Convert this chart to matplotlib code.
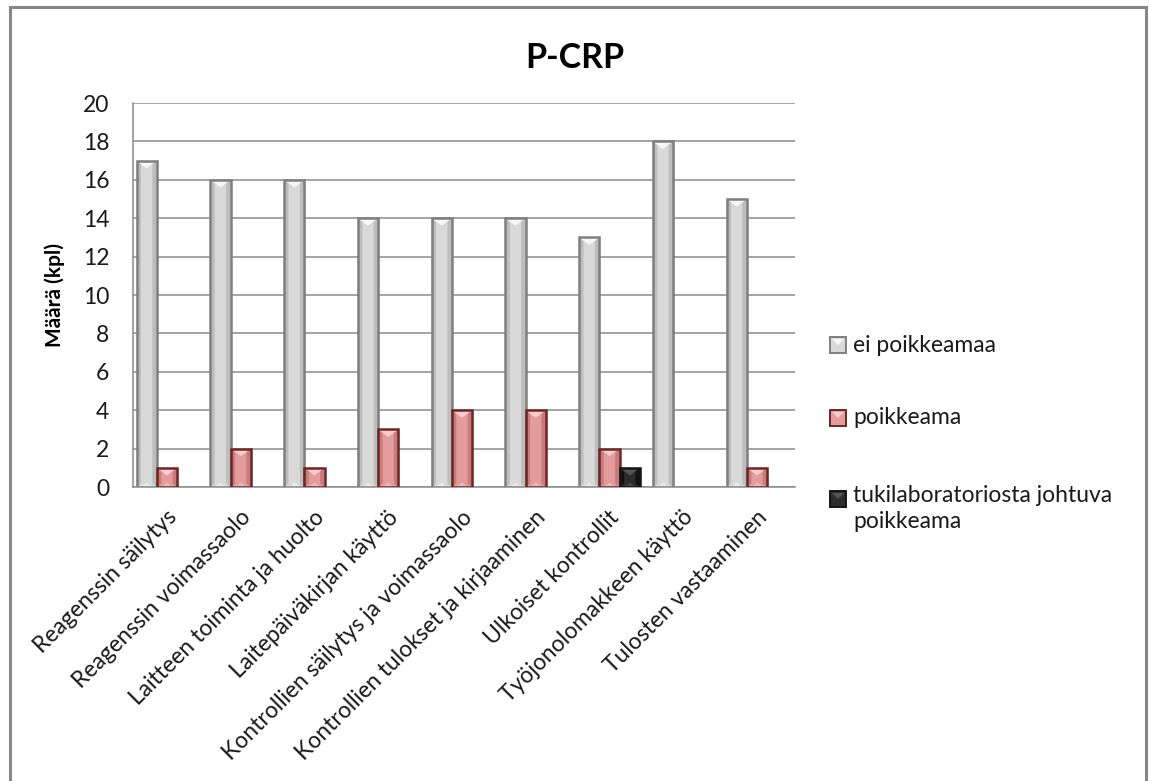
import matplotlib
matplotlib.use("Agg")
import matplotlib.pyplot as plt
import matplotlib.transforms as mtransforms
from matplotlib.patches import Polygon, Rectangle
import numpy as np

plt.rcParams['font.family'] = ['Lato', 'DejaVu Sans']

categories = [
    "Reagenssin säilytys",
    "Reagenssin voimassaolo",
    "Laitteen toiminta ja huolto",
    "Laitepäiväkirjan käyttö",
    "Kontrollien säilytys ja voimassaolo",
    "Kontrollien tulokset ja kirjaaminen",
    "Ulkoiset kontrollit",
    "Työjonolomakkeen käyttö",
    "Tulosten vastaaminen",
]
ei_poikkeamaa = [17, 16, 16, 14, 14, 14, 13, 18, 15]
poikkeama = [1, 2, 1, 3, 4, 4, 2, 0, 1]
tukilaboratorio = [0, 0, 0, 0, 0, 0, 1, 0, 0]

series_labels = ["ei poikkeamaa", "poikkeama", "tukilaboratoriosta johtuva\npoikkeama"]
yticks = list(range(0, 21, 2))

# colours: (face, light, dark, edge)
styles = [
    ("#d9d9d9", "#f7f7f7", "#bdbdbd", "#7f7f7f"),
    ("#e39b9b", "#f6cccc", "#c97b7b", "#6e2626"),
    ("#2c2c2c", "#555555", "#111111", "#151515"),
]

FS = 16.5

W, H = 1149, 781
fig = plt.figure(figsize=(W / 100, H / 100), dpi=100)
ax_left, ax_right, ax_top, ax_bot = 133, 795, 103, 487
ax = fig.add_axes([ax_left / W, 1 - ax_bot / H, (ax_right - ax_left) / W, (ax_bot - ax_top) / H])

slot = 73.75                  # pixels per category
bw = 20.3 / slot              # bar width in category units
x = np.arange(len(categories))
x_lo = -(167 - ax_left) / slot
x_hi = x_lo + (ax_right - ax_left) / slot
ax.set_xlim(x_lo, x_hi)
ax.set_ylim(0, 20)

px_per_unit_y = (ax_bot - ax_top) / 20.0


def bevel(patch, style):
    face, light, dark, edge = style
    x0, y0 = patch.get_x(), patch.get_y()
    w, h = patch.get_width(), patch.get_height()
    if h <= 0:
        return
    b = min((w * slot / 2.0) / px_per_unit_y * 0.75, h / 2.0)
    xm = x0 + w / 2.0
    inset = w * 0.22
    # side shading
    ax.add_patch(Polygon([(x0, y0), (x0 + inset, y0 + b * 0.45), (x0 + inset, y0 + h - b * 0.45), (x0, y0 + h)],
                         closed=True, facecolor=dark, edgecolor='none', zorder=3.1))
    ax.add_patch(Polygon([(x0 + w, y0), (x0 + w - inset, y0 + b * 0.45), (x0 + w - inset, y0 + h - b * 0.45), (x0 + w, y0 + h)],
                         closed=True, facecolor=dark, edgecolor='none', zorder=3.1))
    # top facet
    ax.add_patch(Polygon([(x0, y0 + h), (x0 + w, y0 + h), (xm, y0 + h - b)],
                         closed=True, facecolor=light, edgecolor='none', zorder=3.2))
    # bottom facet
    ax.add_patch(Polygon([(x0 + inset, y0), (x0 + w - inset, y0), (xm, y0 + b * 0.6)],
                         closed=True, facecolor=light, edgecolor='none', alpha=0.6, zorder=3.2))
    # outline on top
    ax.add_patch(Rectangle((x0, y0), w, h, facecolor='none', edgecolor=edge, linewidth=1.8, zorder=3.3))
    # soft drop shadow
    ax.add_patch(Rectangle((x0 + w, y0), w * 0.08, h, facecolor='#000000', alpha=0.12,
                           edgecolor='none', zorder=2.9, clip_on=False))


all_series = [ei_poikkeamaa, poikkeama, tukilaboratorio]
for k, (vals, st) in enumerate(zip(all_series, styles)):
    bars = ax.bar(x + (k - 1) * bw, vals, width=bw, color=st[0], edgecolor='none', zorder=3)
    for p in bars:
        bevel(p, st)

ax.set_yticks(yticks)
ax.set_yticklabels([str(t) for t in yticks], fontsize=FS, color='#1a1a1a')
ax.yaxis.grid(True, color='#8c8c8c', linewidth=1.1)
ax.set_axisbelow(True)
ax.tick_params(axis='y', length=0, pad=17)
for s in ['top', 'right']:
    ax.spines[s].set_visible(False)
for s in ['left', 'bottom']:
    ax.spines[s].set_color('#8c8c8c')
    ax.spines[s].set_linewidth(1.1)

ax.set_xticks(x)
ax.set_xticklabels(categories, rotation=45, ha='right', va='top', fontsize=FS, color='#1a1a1a')
ax.tick_params(axis='x', length=0, pad=14)
offset = mtransforms.ScaledTranslation(14 / 100, 0, fig.dpi_scale_trans)
for lbl in ax.get_xticklabels():
    lbl.set_transform(lbl.get_transform() + offset)

# title and axis label
fig.text(575 / W, 1 - 58 / H, "P-CRP", ha='center', va='center', fontsize=24.5, fontweight='bold', color='#000000')
fig.text(55 / W, 1 - 295 / H, "Määrä (kpl)", ha='center', va='center', rotation=90,
         fontsize=15, fontweight='bold', color='#000000')

# legend
leg_y = [345, 418, 499]
for lab, st, yy in zip(series_labels, styles, leg_y):
    face, light, dark, edge = st
    fig.patches.append(Rectangle((830 / W, 1 - (yy + 8) / H), 16 / W, 16 / H, transform=fig.transFigure,
                                 facecolor=face, edgecolor=edge, linewidth=1.4))
    fig.patches.append(Polygon([(832 / W, 1 - (yy - 6) / H), (844 / W, 1 - (yy - 6) / H), (838 / W, 1 - yy / H)],
                               closed=True, transform=fig.transFigure, facecolor=light, edgecolor='none'))
    if '\n' in lab:
        fig.text(853 / W, 1 - (yy - 14) / H, lab, ha='left', va='top', fontsize=FS,
                 color='#1a1a1a', linespacing=1.3)
    else:
        fig.text(853 / W, 1 - yy / H, lab, ha='left', va='center', fontsize=FS, color='#1a1a1a')

# outer chart border
fig.patches.append(Rectangle((10 / W, -0.05), (1146 - 10) / W, 1.05 - 7 / H, transform=fig.transFigure,
                             facecolor='none', edgecolor='#878787', linewidth=2.2, clip_on=False))

fig.savefig("out.png", dpi=100)
